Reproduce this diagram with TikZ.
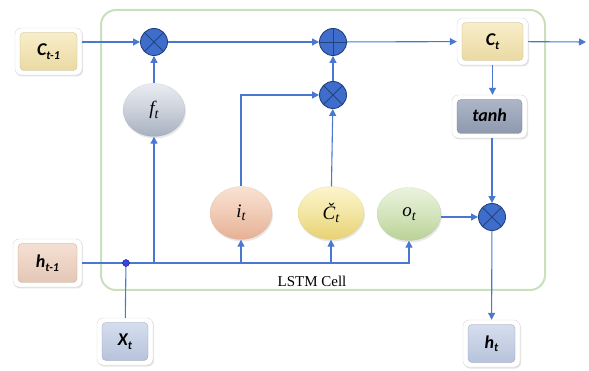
\documentclass[tikz,border=0pt]{standalone}
\usepackage{fontspec}
\setmainfont{Liberation Serif}
\newfontfamily\labelfont{Carlito}
\usetikzlibrary{arrows.meta,shadows,calc,shapes.geometric}

\definecolor{wire}{HTML}{4A78D0}
\definecolor{opfill}{HTML}{3E6DCB}
\definecolor{opedge}{HTML}{24427C}
\definecolor{cellgreen}{HTML}{CADFBC}
\definecolor{dotblue}{HTML}{3A45E0}
% tile colours (top, bottom)
\definecolor{ctop}{HTML}{FAF0CF}\definecolor{cbot}{HTML}{E9D79E}
\definecolor{htop}{HTML}{F6E3D7}\definecolor{hbot}{HTML}{E2C4B2}
\definecolor{xtop}{HTML}{D9E1F0}\definecolor{xbot}{HTML}{B3C0D8}
\definecolor{ttop}{HTML}{B0BACB}\definecolor{tbot}{HTML}{8A95AB}
% gate colours (top, bottom)
\definecolor{ftop}{HTML}{E9ECF1}\definecolor{fbot}{HTML}{A7B0C0}
\definecolor{itop}{HTML}{F9E2D3}\definecolor{ibot}{HTML}{E6B093}
\definecolor{gtop}{HTML}{FCF5CC}\definecolor{gbot}{HTML}{E8D272}
\definecolor{otop}{HTML}{EAF3DD}\definecolor{obot}{HTML}{B9D296}

% bold italic label with a lowered subscript
\newcommand{\boxlbl}[2]{{\labelfont\bfseries\itshape\fontsize{18}{18}\selectfont #1\raisebox{-3.5pt}{\fontsize{12}{12}\selectfont #2}}}
% italic gate label with a lowered subscript
\newcommand{\gatelbl}[2]{{\itshape\fontsize{19}{19}\selectfont #1\raisebox{-3.5pt}{\fontsize{14}{14}\selectfont #2}}}

\tikzset{
  wireline/.style={draw=wire, line width=1.1pt},
  arr/.style={wireline, -{Triangle[length=7pt,width=7pt]}},
  tile/.style n args={4}{rectangle, rounded corners=6pt, fill=white,
    draw=black!15, line width=0.4pt, inner sep=0pt,
    minimum width=#1, minimum height=#2,
    drop shadow={opacity=0.22, shadow xshift=1pt, shadow yshift=-1.5pt},
    path picture={
      \shade[rounded corners=4pt, top color=#3, bottom color=#4, draw=#4!85!black, line width=0.3pt]
        ([shift={(5pt,-4.5pt)}]path picture bounding box.north west) rectangle
        ([shift={(-5pt,4.5pt)}]path picture bounding box.south east);}},
  gate/.style 2 args={ellipse, minimum width=62pt, minimum height=53pt, inner sep=0pt,
    top color=#1, bottom color=#2, middle color=#1!55!#2,
    draw=#2!80!black, draw opacity=0.25, line width=0.4pt,
    drop shadow={opacity=0.18, shadow xshift=1pt, shadow yshift=-2pt}},
  mult/.style={circle, minimum size=27pt, inner sep=0pt, fill=opfill, draw=opedge, line width=0.9pt,
    path picture={\draw[opedge, line width=0.9pt]
      (path picture bounding box.north west) -- (path picture bounding box.south east)
      (path picture bounding box.north east) -- (path picture bounding box.south west);}},
  plusop/.style={circle, minimum size=27pt, inner sep=0pt, fill=opfill, draw=opedge, line width=0.9pt,
    path picture={\draw[opedge, line width=0.9pt]
      (path picture bounding box.north) -- (path picture bounding box.south)
      (path picture bounding box.east) -- (path picture bounding box.west);}},
  cellframe/.style={rectangle, rounded corners=15pt, draw=cellgreen, line width=2pt,
    minimum width=444pt, minimum height=280pt, inner sep=0pt},
}

\begin{document}
\begin{tikzpicture}[x=1pt, y=-1pt]
\useasboundingbox (0,0) rectangle (589,371);

% cell border and caption
\node[cellframe] (cell) at (323,150) {};
\node (caption) at (312,281) {\fontsize{15}{15}\selectfont LSTM Cell};

% input / output tiles
\node[tile={67pt}{47pt}{ctop}{cbot}] (cprev) at (48.5,51.5) {\boxlbl{C}{t-1}};
\node[tile={71pt}{47pt}{ctop}{cbot}] (ct) at (492.5,41.5) {\boxlbl{C}{t}};
\node[tile={75pt}{43pt}{ttop}{tbot}] (tanh) at (489.5,116.5) {\boxlbl{tanh}{}};
\node[tile={69pt}{48pt}{htop}{hbot}] (hprev) at (47.5,263) {\boxlbl{h}{t-1}};
\node[tile={56pt}{47pt}{xtop}{xbot}] (xt) at (125,341.5) {\boxlbl{X}{t}};
\node[tile={57pt}{47pt}{xtop}{xbot}] (ht) at (491.5,343.5) {\boxlbl{h}{t}};

% gates
\node[gate={ftop}{fbot}] (ft) at (154,110) {\gatelbl{f}{t}};
\node[gate={itop}{ibot}] (it) at (241,213) {\gatelbl{i}{t}};
\node[gate={gtop}{gbot}, minimum width=66pt] (cc) at (331,213) {\gatelbl{Č}{t}};
\node[gate={otop}{obot}, minimum width=64pt] (ot) at (409,214) {\gatelbl{o}{t}};

% pointwise operations
\node[mult] (m1) at (154,42) {};
\node[plusop] (pl) at (333,42) {};
\node[mult] (m2) at (333,95) {};
\node[mult] (m3) at (492,217) {};

% junction of h_{t-1} and x_t
\coordinate (jn) at (126,263);
\coordinate (cout) at (586,42);

% cell-state path
\draw[arr] (cprev.east |- m1) -- (m1);
\draw[arr] (m1) -- (pl);
\draw[arr] (pl) -- (ct);
\draw[arr] (ct) -- (cout);
\draw[arr] (ct.south) -- (ct.south |- tanh.north);
\draw[arr] (tanh.south -| m3) -- (m3);
\draw[arr] (m3) -- (ht);

% gate outputs
\draw[arr] (ft) -- (m1);
\draw[arr] (it.north) |- (m2);
\draw[arr] (cc) -- (m2);
\draw[arr] (m2) -- (pl);
\draw[arr] (ot.east |- m3) -- (m3);

% shared input bus
\draw[wireline] (hprev.east |- jn) -- (jn);
\draw[wireline] (jn) -- (xt);
\draw[arr] (jn) -| (ot);
\draw[arr] (ft.south |- jn) -- (ft);
\draw[arr] (it.south |- jn) -- (it);
\draw[arr] (cc.south |- jn) -- (cc);
\node[circle, fill=dotblue, draw=blue!50!black, line width=0.3pt, minimum size=7pt, inner sep=0pt] (dot) at (jn) {};
\end{tikzpicture}
\end{document}
